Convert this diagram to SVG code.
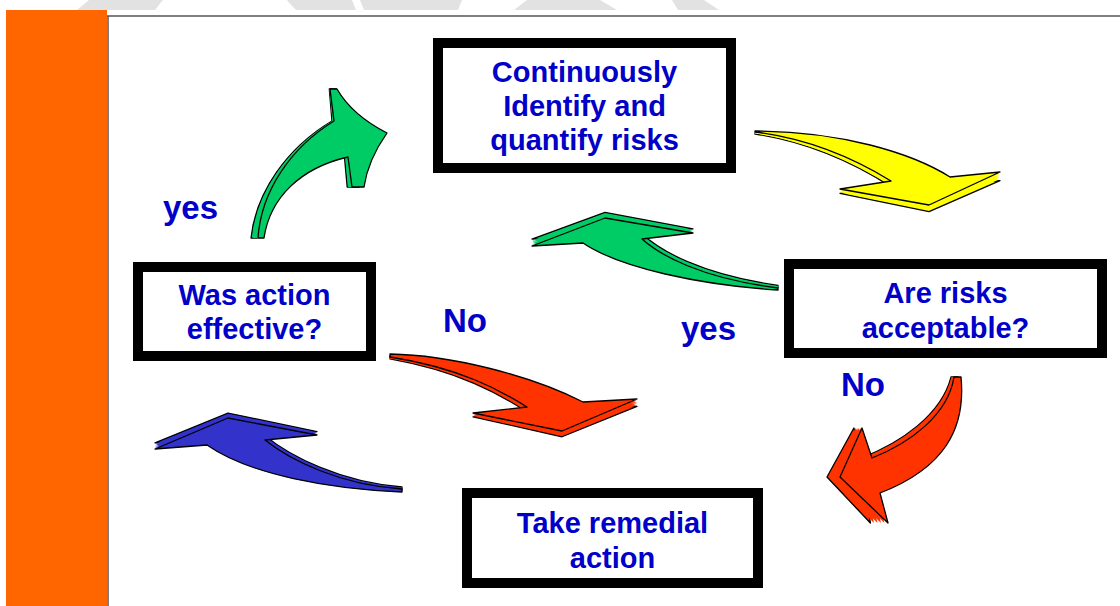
<svg xmlns="http://www.w3.org/2000/svg" xmlns:xlink="http://www.w3.org/1999/xlink" width="1120" height="606" viewBox="0 0 1120 606">
<style>
.o{stroke:#000;stroke-width:1.3;stroke-linejoin:round}
.f{stroke:none}
.box{fill:#fff;stroke:#000;stroke-width:10}
.t{font-family:"Liberation Sans",Arial,sans-serif;font-weight:bold;font-size:29px;fill:#0000c8;text-anchor:middle}
.l{font-family:"Liberation Sans",Arial,sans-serif;font-weight:bold;font-size:33px;fill:#0000c8}
.wm{fill:#e2e2e2}
</style>
<defs>
<path id="ag1" d="M258,238 C261,192 290,148 334,121 L330,89 L337,89 Q352,115 387,133 Q368,160 364,187 L352,187 L348,157 C300,168 270,198 264,238 Z"/>
<path id="ay" d="M755,131 C840,131 912,153 950,177 L1000,172 L929,205 L840,189 L891,181 C860,162 812,139 755,132 Z"/>
<path id="ag2" d="M778,290 C700,285 620,268 583,243 L532,246 L605,218 L693,233 L642,239 C660,255 700,278 778,288 Z"/>
<path id="ar1" d="M390,354 C450,355 530,375 583,402 L637,399 L562,431 L473,413 L527,407 C500,390 460,368 390,357 Z"/>
<path id="ar2" d="M961,377 C966,428 945,468 880,493 L888,523 L840,477 L862,428 L872,458 C910,443 948,415 954,377 Z"/>
<path id="ab" d="M402,492 C330,489 250,475 207,445 L155,449 L228,418 L317,435 L265,440 C290,460 340,485 402,489 Z"/>
</defs>
<rect width="1120" height="606" fill="#fff"/>
<g id="watermark">
<path class="wm" d="M77,10 L89,0 L163,0 Q158,6 155,10 Z"/>
<path class="wm" d="M296,10 Q290,4 287,0 L352,0 L356,10 Z"/>
<path class="wm" d="M364,10 L360,0 L462,0 L458,10 Z"/>
<path class="wm" d="M514,10 L527,0 L600,0 L617,10 Z"/>
<path class="wm" d="M678,10 L672,0 L704,0 L719,10 Z"/>
</g>
<g id="frame">
<rect x="6" y="10" width="101" height="596" fill="#ff6600"/>
<line x1="107" y1="16" x2="1120" y2="16" stroke="#555" stroke-width="1.5"/>
<line x1="108" y1="16" x2="108" y2="606" stroke="#555" stroke-width="1.5"/>
</g>
<g id="connectors">
<g id="arrow-yes-top" fill="#00cc66">
<use href="#ag1" class="o" transform="matrix(1,0,-0.042,1,3.04,0)"/>
<use href="#ag1" class="f" transform="matrix(1,0,-0.0336,1,2.43,0)"/>
<use href="#ag1" class="f" transform="matrix(1,0,-0.0252,1,1.82,0)"/>
<use href="#ag1" class="f" transform="matrix(1,0,-0.0168,1,1.22,0)"/>
<use href="#ag1" class="f" transform="matrix(1,0,-0.0084,1,0.61,0)"/>
<use href="#ag1" class="o"/>
</g>
<g id="arrow-top-right" fill="#ffff00">
<use href="#ay" class="o" transform="matrix(1,0.027,0,1,0,-18.4)"/>
<use href="#ay" class="f" transform="matrix(1,0.0216,0,1,0,-14.72)"/>
<use href="#ay" class="f" transform="matrix(1,0.0162,0,1,0,-11.04)"/>
<use href="#ay" class="f" transform="matrix(1,0.0108,0,1,0,-7.36)"/>
<use href="#ay" class="f" transform="matrix(1,0.0054,0,1,0,-3.68)"/>
<use href="#ay" class="o"/>
</g>
<g id="arrow-yes-mid" fill="#00cc66">
<use href="#ag2" class="o" transform="matrix(1,0.018,0,1,0,-16.5)"/>
<use href="#ag2" class="f" transform="matrix(1,0.0144,0,1,0,-13.2)"/>
<use href="#ag2" class="f" transform="matrix(1,0.0108,0,1,0,-9.9)"/>
<use href="#ag2" class="f" transform="matrix(1,0.0072,0,1,0,-6.6)"/>
<use href="#ag2" class="f" transform="matrix(1,0.0036,0,1,0,-3.3)"/>
<use href="#ag2" class="o"/>
</g>
<g id="arrow-no-mid" fill="#ff3300">
<use href="#ar1" class="o" transform="matrix(1,0.022,0,1,0,-6.6)"/>
<use href="#ar1" class="f" transform="matrix(1,0.0176,0,1,0,-5.28)"/>
<use href="#ar1" class="f" transform="matrix(1,0.0132,0,1,0,-3.96)"/>
<use href="#ar1" class="f" transform="matrix(1,0.0088,0,1,0,-2.64)"/>
<use href="#ar1" class="f" transform="matrix(1,0.0044,0,1,0,-1.32)"/>
<use href="#ar1" class="o"/>
</g>
<g id="arrow-no-right" fill="#ff3300">
<use href="#ar2" class="o" transform="matrix(1,0,-0.1,1,34.7,0)"/>
<use href="#ar2" class="f" transform="matrix(1,0,-0.08,1,27.76,0)"/>
<use href="#ar2" class="f" transform="matrix(1,0,-0.06,1,20.82,0)"/>
<use href="#ar2" class="f" transform="matrix(1,0,-0.04,1,13.88,0)"/>
<use href="#ar2" class="f" transform="matrix(1,0,-0.02,1,6.94,0)"/>
<use href="#ar2" class="o"/>
</g>
<g id="arrow-back" fill="#3333cc">
<use href="#ab" class="o" transform="matrix(1,0.017,0,1,0,-8.83)"/>
<use href="#ab" class="f" transform="matrix(1,0.0136,0,1,0,-7.06)"/>
<use href="#ab" class="f" transform="matrix(1,0.0102,0,1,0,-5.3)"/>
<use href="#ab" class="f" transform="matrix(1,0.0068,0,1,0,-3.53)"/>
<use href="#ab" class="f" transform="matrix(1,0.0034,0,1,0,-1.77)"/>
<use href="#ab" class="o"/>
</g>
</g>
<g id="node-identify">
<rect class="box" x="438" y="43" width="293" height="125"/>
<text class="t" x="584.5" y="82">Continuously</text>
<text class="t" x="584.5" y="116">Identify and</text>
<text class="t" x="584.5" y="150">quantify risks</text>
</g>
<g id="node-acceptable">
<rect class="box" x="789" y="264" width="313" height="89"/>
<text class="t" x="945.5" y="303">Are risks</text>
<text class="t" x="945.5" y="338">acceptable?</text>
</g>
<g id="node-effective">
<rect class="box" x="138" y="267" width="233" height="89"/>
<text class="t" x="254.5" y="305">Was action</text>
<text class="t" x="254.5" y="339">effective?</text>
</g>
<g id="node-remedial">
<rect class="box" x="467" y="493" width="291" height="90"/>
<text class="t" x="612.5" y="533">Take remedial</text>
<text class="t" x="612.5" y="568">action</text>
</g>
<g id="labels">
<text class="l" x="163" y="219">yes</text>
<text class="l" x="443" y="332">No</text>
<text class="l" x="681" y="340">yes</text>
<text class="l" x="841" y="396">No</text>
</g>
</svg>
